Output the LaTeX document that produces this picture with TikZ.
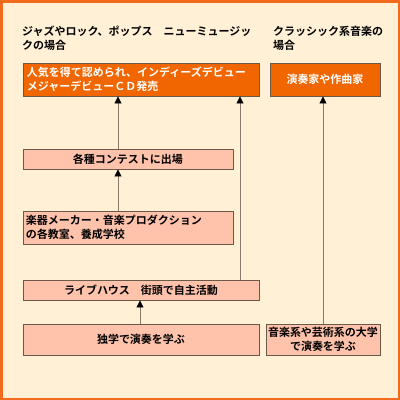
\documentclass[tikz,border=0pt]{standalone}
\usepackage{fontspec}
\setmainfont{Noto Sans CJK JP Bold}
\usetikzlibrary{arrows.meta}
\definecolor{bg}{HTML}{FFF0D6}
\definecolor{frame}{HTML}{F26B1D}
\definecolor{orangebox}{HTML}{F26600}
\definecolor{pinkbox}{HTML}{FFC2AA}
\definecolor{edge}{HTML}{6B5A4A}
\definecolor{linec}{HTML}{8A7A6A}
\tikzset{
  boxbase/.style={draw=edge, line width=0.9pt, inner sep=0pt, font=\fontsize{11}{13.5}\selectfont},
  pink/.style={boxbase, fill=pinkbox, text=black},
  orng/.style={boxbase, fill=orangebox, text=white},
  hdr/.style={anchor=north west, inner sep=0pt, align=left, font=\fontsize{11}{13.5}\selectfont},
  arr/.style={draw=linec, line width=0.8pt, -{Triangle[length=7pt,width=7pt,color=black]}}
}
\begin{document}
\begin{tikzpicture}[x=1pt,y=-1pt]
\useasboundingbox (0,0) rectangle (400,400);
\fill[bg] (0,0) rectangle (400,400);
\draw[frame, line width=2.5pt] (1.25,1.25) rectangle (398.75,398.75);
% headers
\node[hdr] (h1) at (22,26) {ジャズやロック、ポップス　ニューミュージッ\\クの場合};
\node[hdr] (h2) at (273,26) {クラッシック系音楽の\\場合};
% boxes
\node[orng, minimum width=236pt, minimum height=33pt, text width=228pt, align=left] (topL) at (141,79.5) {人気を得て認められ、インディーズデビュー\\メジャーデビューＣＤ発売};
\node[orng, minimum width=110pt, minimum height=33pt, align=center] (topR) at (325,79.5) {演奏家や作曲家};
\node[pink, minimum width=210pt, minimum height=20pt, align=center] (contest) at (128,159) {各種コンテストに出場};
\node[pink, minimum width=210pt, minimum height=33pt, text width=204pt, align=left] (gakki) at (128,227.5) {楽器メーカー・音楽プロダクション\\の各教室、養成学校};
\node[pink, minimum width=236pt, minimum height=20pt, align=center] (live) at (141,290) {ライブハウス　街頭で自主活動};
\node[pink, minimum width=236pt, minimum height=31pt, align=center] (doku) at (141,339.5) {独学で演奏を学ぶ};
\node[pink, minimum width=114pt, minimum height=31pt, align=center] (ongaku) at (323,339.5) {音楽系や芸術系の大学\\で演奏を学ぶ};
% connectors
\draw[arr] ([xshift=-10pt]contest.north) -- ([xshift=-10pt]contest.north |- topL.south);
\draw[arr] ([xshift=-10pt]gakki.north) -- ([xshift=-10pt]gakki.north |- contest.south);
\draw[arr] ([xshift=99pt]live.north) -- ([xshift=99pt]live.north |- topL.south);
\draw[arr] ([xshift=-1pt]doku.north) -- ([xshift=-1pt]doku.north |- live.south);
\draw[arr] (ongaku.north) -- (ongaku.north |- topR.south);
\end{tikzpicture}
\end{document}
